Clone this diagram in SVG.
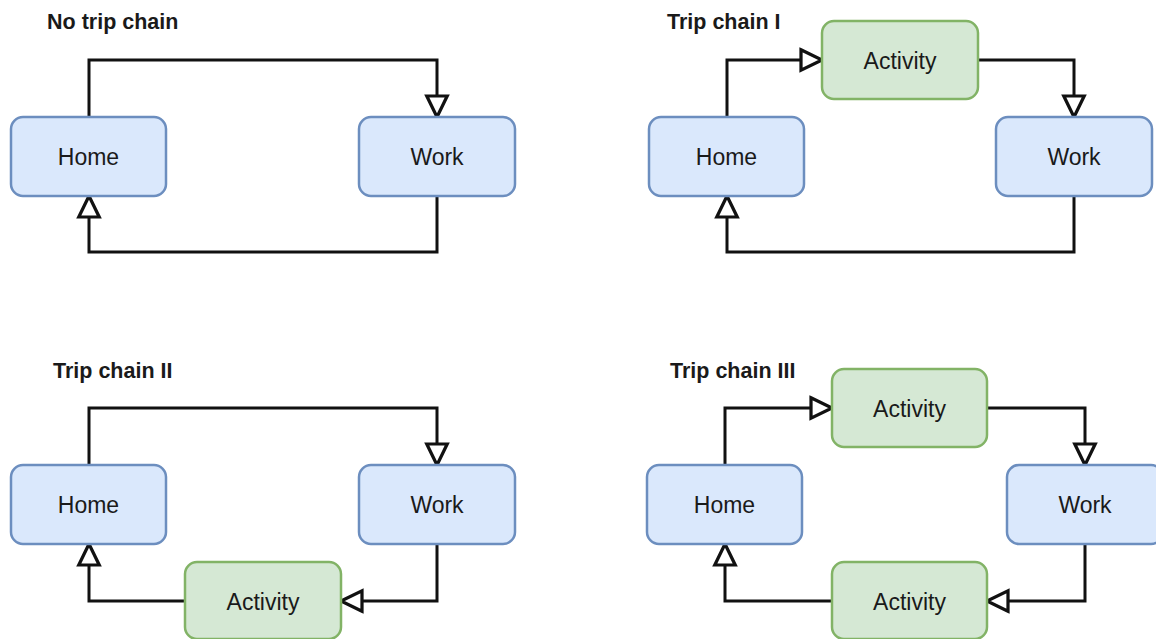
<svg xmlns="http://www.w3.org/2000/svg" width="1156" height="639" viewBox="0 0 1156 639">
<style>
.blue{fill:#dae8fc;stroke:#6c8ebf;stroke-width:2.5}
.green{fill:#d5e8d4;stroke:#82b366;stroke-width:2.5}
.lbl{font-family:"Liberation Sans",Arial,sans-serif;font-size:23px;fill:#1a1a1a;text-anchor:middle}
.ttl{font-family:"Liberation Sans",Arial,sans-serif;font-size:21.5px;font-weight:bold;fill:#1a1a1a}
.edge{fill:none;stroke:#111;stroke-width:3;marker-end:url(#arr)}
</style>
<defs>
<marker id="arr" markerUnits="userSpaceOnUse" markerWidth="28" markerHeight="28" viewBox="-2 -2 26 26" refX="21" refY="11" orient="auto" overflow="visible">
<path d="M1.5,1.5 L21,11 L1.5,20.5 Z" fill="#fff" stroke="#111" stroke-width="3" stroke-linejoin="miter"/>
</marker>
</defs>
<rect width="1156" height="639" fill="#fff"/>
<g id="titles">
<text class="ttl" x="47" y="29">No trip chain</text>
<text class="ttl" x="667" y="29">Trip chain I</text>
<text class="ttl" x="53" y="378">Trip chain II</text>
<text class="ttl" x="670" y="378">Trip chain III</text>
</g>
<g id="connectors">
<path class="edge" d="M89,117 V60 H437 V117"/>
<path class="edge" d="M437,196 V252 H89 V196"/>
<path class="edge" d="M727,117 V60 H822"/>
<path class="edge" d="M978,60 H1074 V117"/>
<path class="edge" d="M1074,196 V252 H727 V196"/>
<path class="edge" d="M89,465 V408 H437 V465"/>
<path class="edge" d="M437,544 V601 H341"/>
<path class="edge" d="M185,601 H89 V544"/>
<path class="edge" d="M725,465 V408 H832"/>
<path class="edge" d="M987,408 H1085 V465"/>
<path class="edge" d="M1085,544 V601 H987"/>
<path class="edge" d="M832,601 H725 V544"/>
</g>
<g id="p1-home"><rect class="blue" x="11" y="117" width="155" height="79" rx="12"/><text class="lbl" x="88.5" y="165">Home</text></g>
<g id="p1-work"><rect class="blue" x="359" y="117" width="156" height="79" rx="12"/><text class="lbl" x="437" y="165">Work</text></g>
<g id="p2-home"><rect class="blue" x="649" y="117" width="155" height="79" rx="12"/><text class="lbl" x="726.5" y="165">Home</text></g>
<g id="p2-activity"><rect class="green" x="822" y="21" width="156" height="78" rx="12"/><text class="lbl" x="900" y="68.5">Activity</text></g>
<g id="p2-work"><rect class="blue" x="996" y="117" width="156" height="79" rx="12"/><text class="lbl" x="1074" y="165">Work</text></g>
<g id="p3-home"><rect class="blue" x="11" y="465" width="155" height="79" rx="12"/><text class="lbl" x="88.5" y="513">Home</text></g>
<g id="p3-work"><rect class="blue" x="359" y="465" width="156" height="79" rx="12"/><text class="lbl" x="437" y="513">Work</text></g>
<g id="p3-activity"><rect class="green" x="185" y="562" width="156" height="77" rx="12"/><text class="lbl" x="263" y="609.5">Activity</text></g>
<g id="p4-home"><rect class="blue" x="647" y="465" width="155" height="79" rx="12"/><text class="lbl" x="724.5" y="513">Home</text></g>
<g id="p4-activity-top"><rect class="green" x="832" y="369" width="155" height="78" rx="12"/><text class="lbl" x="909.5" y="416.5">Activity</text></g>
<g id="p4-work"><rect class="blue" x="1007" y="465" width="156" height="79" rx="12"/><text class="lbl" x="1085" y="513">Work</text></g>
<g id="p4-activity-bottom"><rect class="green" x="832" y="562" width="155" height="77" rx="12"/><text class="lbl" x="909.5" y="609.5">Activity</text></g>
</svg>
